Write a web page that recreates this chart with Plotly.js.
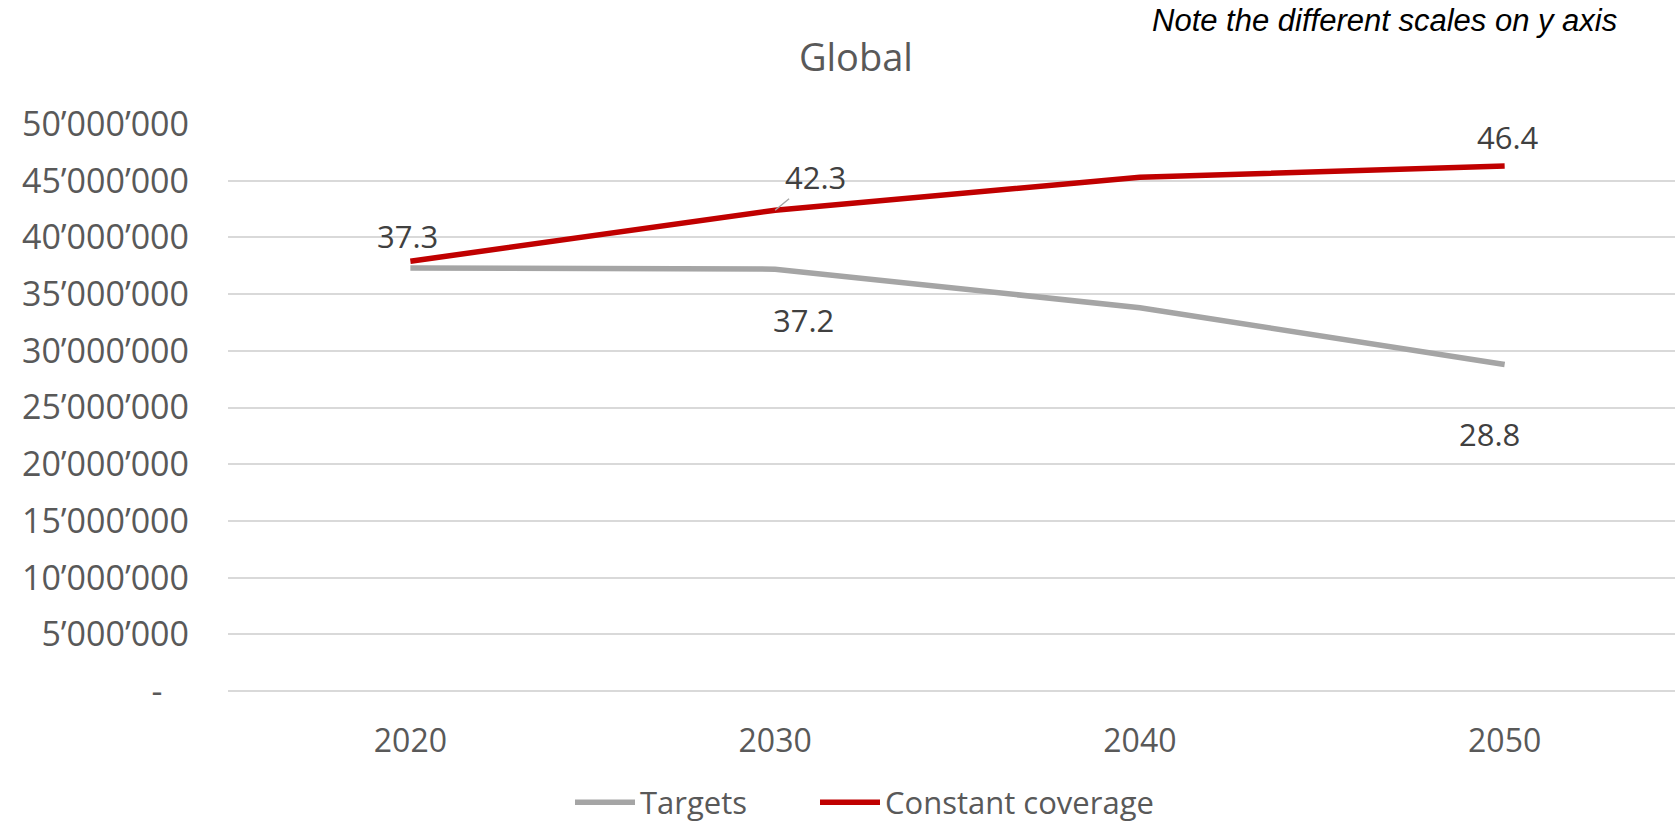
<!DOCTYPE html>
<html>
<head>
<meta charset="utf-8">
<script src="https://cdn.plot.ly/plotly-3.0.1.min.js"></script>
<style>html,body{margin:0;padding:0;background:#fff;}#chart{width:1675px;height:825px;}</style>
</head>
<body>
<div id="chart"></div>
<script>
// Data
const years = ["2020", "2030", "2040", "2050"];
const targets = [37.3e6, 37.2e6, 33.8e6, 28.8e6];
const constantCoverage = [37.9e6, 42.4e6, 45.3e6, 46.3e6];
const yTickVals = [0, 5e6, 10e6, 15e6, 20e6, 25e6, 30e6, 35e6, 40e6, 45e6, 50e6];
const yTickText = ["-\u00a0\u00a0\u00a0", "5’000’000", "10’000’000", "15’000’000", "20’000’000", "25’000’000",
                   "30’000’000", "35’000’000", "40’000’000", "45’000’000", "50’000’000"];
// data labels (in millions)
const labelsCoverage = ["37.3", "42.3", "", "46.4"];
const labelsTargets = ["", "37.2", "", "28.8"];

const FONT = "'Open Sans', 'Noto Sans', sans-serif";
const grey = "#a5a5a5", red = "#c00000", txt = "#595959", lab = "#404040";

const traces = [
  {x: years, y: targets, name: "Targets", type: "scatter", mode: "lines", legend: "legend",
   line: {color: grey, width: 5.5}, hoverinfo: "skip", cliponaxis: false},
  {x: years, y: constantCoverage, name: "Constant coverage", type: "scatter", mode: "lines", legend: "legend2",
   line: {color: red, width: 5.5}, hoverinfo: "skip", cliponaxis: false}
];

// label offsets (style)
const covOff = [{dx: -3, dy: 25}, {dx: 40, dy: 33, arrow: true}, null, {dx: 3, dy: 29}];
const tarOff = [null, {dx: 28, dy: -51}, null, {dx: -15, dy: -70}];
const LBLFONT = {family: FONT, size: 31, color: lab};

const annotations = [];
labelsCoverage.forEach((t, i) => {
  if (!t || !covOff[i]) return;
  const o = covOff[i];
  if (o.arrow) {
    annotations.push({x: i, y: constantCoverage[i], xref: "x", yref: "y", text: t,
      showarrow: true, arrowhead: 0, arrowwidth: 1.4, arrowcolor: grey, ax: o.dx, ay: -o.dy,
      standoff: 0, borderpad: 0, font: LBLFONT});
  } else {
    annotations.push({x: i, y: constantCoverage[i], xref: "x", yref: "y", text: t,
      showarrow: false, xshift: o.dx, yshift: o.dy, font: LBLFONT});
  }
});
labelsTargets.forEach((t, i) => {
  if (!t || !tarOff[i]) return;
  const o = tarOff[i];
  annotations.push({x: i, y: targets[i], xref: "x", yref: "y", text: t,
    showarrow: false, xshift: o.dx, yshift: o.dy, font: LBLFONT});
});
annotations.push({x: 0.9613, y: 1.183, xref: "paper", yref: "paper", xanchor: "right", yanchor: "middle",
  text: "<i>Note the different scales on y axis</i>", showarrow: false,
  font: {family: "'Liberation Sans', Arial, sans-serif", size: 31, color: "#000"}});

const legendBase = {orientation: "h", xref: "container", yref: "container", y: 0.027,
  xanchor: "left", yanchor: "middle", font: {family: FONT, size: 31, color: txt},
  itemwidth: 60, bgcolor: "rgba(0,0,0,0)", borderwidth: 0};

const layout = {
  width: 1675, height: 825,
  margin: {l: 228, r: 0, t: 124, b: 134},
  paper_bgcolor: "#fff", plot_bgcolor: "#fff",
  font: {family: FONT, color: txt},
  title: {text: "Global", x: 0.511, xref: "container", y: 0.93, yref: "container",
          xanchor: "center", yanchor: "middle", font: {family: FONT, size: 38, color: txt}},
  xaxis: {type: "category", range: [-0.5, 3.467], showgrid: false, zeroline: false, showline: false,
          ticks: "", ticklabelstandoff: 28, tickfont: {family: FONT, size: 32, color: txt}},
  yaxis: {range: [0, 50e6], tickvals: yTickVals, ticktext: yTickText, showgrid: true,
          gridcolor: "#d9d9d9", gridwidth: 2, zeroline: true, zerolinecolor: "#d9d9d9", zerolinewidth: 2,
          showline: false, ticks: "", ticklabelstandoff: 38,
          tickfont: {family: FONT, size: 34, color: txt}},
  showlegend: true,
  legend: Object.assign({}, legendBase, {x: 570 / 1675}),
  legend2: Object.assign({}, legendBase, {x: 815 / 1675}),
  annotations: annotations
};

Plotly.newPlot("chart", traces, layout, {staticPlot: true, displayModeBar: false});
</script>
</body>
</html>
